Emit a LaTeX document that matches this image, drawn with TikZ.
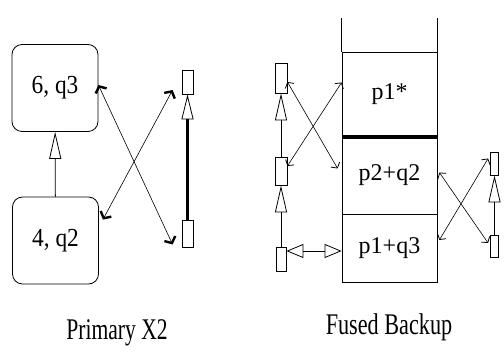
\documentclass[tikz,border=0pt]{standalone}
\usepackage{fontspec}
\setmainfont{Liberation Serif}
\usetikzlibrary{arrows.meta,positioning}

\begin{document}
\begin{tikzpicture}[
  x=1pt, y=-1pt, line width=0.8pt,
  every node/.style={font=\fontsize{24}{24}\selectfont},
  rbox/.style={draw, rounded corners=10pt, minimum width=86pt, minimum height=87pt, inner sep=0pt, font=\fontsize{26}{26}\selectfont},
  slot/.style={draw, minimum width=11pt, inner sep=0pt},
  cell/.style={draw, minimum width=95pt, inner sep=0pt},
  caption/.style={font=\fontsize{30}{30}\selectfont},
  openarr/.style={-{Triangle[open, length=27pt, width=12pt, line width=0.8pt]}},
  openboth/.style={{Triangle[open, length=17pt, width=14pt, line width=0.8pt]}-{Triangle[open, length=17pt, width=14pt, line width=0.8pt]}},
  heavy/.style={{Straight Barb[length=5pt, width=12pt, line width=2.4pt]}-{Straight Barb[length=5pt, width=12pt, line width=2.4pt]}, line width=0.6pt},
  barb/.style={{Straight Barb[length=4pt, width=10pt, line width=0.8pt]}-{Straight Barb[length=4pt, width=10pt, line width=0.8pt]}, line width=0.6pt}
]
\useasboundingbox (0,0) rectangle (504,355);

% Primary X2
\node[rbox] (q3) at (55,88) {\scalebox{0.9}[1]{6, q3}};
\node[rbox] (q2) at (55.5,240.5) {\scalebox{0.9}[1]{4, q2}};
\node[slot, minimum height=24pt] (a1) at (187.5,82) {};
\node[slot, minimum height=27pt] (a2) at (187.5,233.5) {};

\draw[openarr] (q2) -- (q3);
\draw[line width=2.8pt, -{Triangle[open, length=25pt, width=12pt, line width=0.8pt]}] (a2) -- (a1);
\draw[heavy] ([yshift=3pt]q3.east) -- ([xshift=-9pt, yshift=-11pt]a2.west);
\draw[heavy] ([xshift=-9pt, yshift=-8pt]a1.west) -- ([xshift=4pt, yshift=-23pt]q2.north east);

% Fused Backup
\node[cell, minimum height=85pt] (p1s) at (389.5,94.5) {p1*};
\node[cell, minimum height=77pt] (pq2) at (389.5,175.5) {p2+q2};
\node[cell, minimum height=68pt] (pq3) at (389.5,248) {p1+q3};
\draw (p1s.north west) -- ++(0,-34);
\draw (p1s.north east) -- ++(0,-34);
\draw[line width=3.8pt] (p1s.south west) -- (p1s.south east);

\node[slot, minimum width=12pt, minimum height=30pt] (b1) at (281,78) {};
\node[slot, minimum width=12pt, minimum height=28pt] (b2) at (281,171) {};
\node[slot, minimum width=10pt, minimum height=24pt] (b3) at (281,259) {};
\draw[openarr] (b2) -- (b1);
\draw[openarr] (b3) -- (b2);
\draw[openboth] ([yshift=8pt]b3.east) -- ([yshift=-3pt]pq3.west);
\draw[barb] ([yshift=-4pt]b1.east) -- ([xshift=-4pt, yshift=7pt]pq2.west);
\draw[barb] ([yshift=5pt]b2.east) -- ([yshift=12pt]p1s.west);

\node[slot, minimum width=8pt, minimum height=23pt] (c1) at (494.5,163.5) {};
\node[slot, minimum width=8pt, minimum height=22pt] (c2) at (494.5,246) {};
\draw[openarr] (c2) -- (c1);
\draw[barb] ([xshift=2pt, yshift=3pt]pq2.east) -- ([xshift=-2pt, yshift=3pt]c2.west);
\draw[barb] ([xshift=2pt, yshift=8pt]pq3.east) -- ([xshift=-2pt, yshift=5pt]c1.west);

% captions
\node[caption] (prim) at (117,333) {\scalebox{0.72}[1]{Primary X2}};
\node[caption] (fused) at (389,327) {\scalebox{0.74}[1]{Fused Backup}};
\end{tikzpicture}
\end{document}
